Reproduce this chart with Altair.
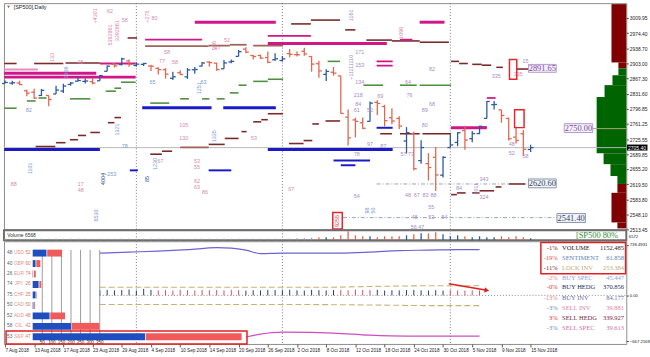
import altair as alt
import pandas as pd

# ---------------- values ----------------
date_labels = ["7 Aug 2018", "13 Aug 2018", "17 Aug 2018", "23 Aug 2018", "29 Aug 2018",
               "4 Sep 2018", "10 Sep 2018", "14 Sep 2018", "20 Sep 2018", "26 Sep 2018",
               "2 Oct 2018", "8 Oct 2018", "12 Oct 2018", "18 Oct 2018", "24 Oct 2018",
               "30 Oct 2018", "5 Nov 2018", "9 Nov 2018", "15 Nov 2018"]
date_tick_bars = [0, 4, 8, 12, 16, 20, 24, 28, 32, 36, 40, 44, 48, 52, 56, 60, 64, 68, 72]

opens = [2855.9, 2856.8, 2857.2, 2838.9, 2835.5, 2827.9, 2827.9, 2831.4, 2838.3, 2853.9,
         2861.5, 2861.0, 2860.3, 2862.4, 2884.7, 2901.5, 2900.6, 2908.9, 2898.4, 2901.0,
         2897.0, 2891.6, 2888.6, 2868.3, 2881.4, 2871.6, 2888.3, 2896.9, 2906.4, 2903.8,
         2890.7, 2906.6, 2919.7, 2936.8, 2921.8, 2921.8, 2917.0, 2911.7, 2910.0, 2926.3,
         2923.8, 2931.7, 2919.4, 2902.5, 2877.5, 2882.5, 2873.9, 2776.9, 2770.5, 2763.8,
         2767.1, 2811.7, 2802.0, 2775.7, 2773.9, 2721.0, 2737.9, 2674.9, 2667.9, 2682.7,
         2640.7, 2705.6, 2717.6, 2745.5, 2726.4, 2738.4, 2774.1, 2806.4, 2794.1, 2773.9,
         2730.0, 2737.9, 2701.0]
highs = [2863.4, 2862.4, 2862.5, 2842.2, 2843.4, 2843.1, 2828.0, 2850.5, 2855.6, 2859.8,
         2873.2, 2867.5, 2868.8, 2876.2, 2898.3, 2903.8, 2916.5, 2912.5, 2906.3, 2904.5,
         2900.2, 2894.2, 2892.1, 2883.8, 2886.9, 2892.5, 2894.7, 2906.8, 2908.3, 2904.7,
         2911.2, 2912.4, 2934.8, 2940.9, 2923.8, 2924.0, 2931.2, 2927.2, 2920.5, 2937.1,
         2931.4, 2939.9, 2919.8, 2909.6, 2889.5, 2894.8, 2874.0, 2795.1, 2775.8, 2776.0,
         2813.5, 2816.9, 2806.0, 2797.8, 2778.9, 2753.6, 2742.6, 2722.7, 2692.4, 2706.9,
         2685.4, 2736.7, 2741.7, 2756.6, 2744.3, 2756.8, 2815.2, 2814.8, 2794.1, 2776.0,
         2754.6, 2746.8, 2712.0]
lows = [2855.9, 2853.1, 2852.0, 2825.8, 2819.9, 2826.6, 2802.5, 2831.4, 2833.7, 2850.6,
        2861.3, 2856.1, 2854.0, 2862.4, 2884.7, 2893.5, 2898.4, 2895.2, 2895.8, 2897.0,
        2885.1, 2876.9, 2867.3, 2864.1, 2875.9, 2866.8, 2879.2, 2896.4, 2895.8, 2886.2,
        2890.4, 2903.8, 2919.7, 2927.1, 2912.6, 2913.7, 2903.3, 2909.3, 2907.5, 2917.9,
        2919.4, 2921.4, 2883.9, 2869.3, 2862.1, 2874.3, 2784.9, 2710.5, 2729.4, 2749.0,
        2766.9, 2781.8, 2755.2, 2760.3, 2749.2, 2691.4, 2651.9, 2667.8, 2628.2, 2603.5,
        2635.3, 2705.6, 2708.9, 2700.4, 2717.9, 2737.1, 2774.1, 2795.0, 2764.2, 2722.0,
        2715.0, 2685.8, 2695.0]
closes = [2858.5, 2857.7, 2853.6, 2833.3, 2821.9, 2840.0, 2818.4, 2840.7, 2850.1, 2857.1,
          2863.0, 2861.8, 2857.0, 2874.7, 2896.7, 2897.5, 2914.0, 2901.1, 2901.5, 2903.0,
          2896.7, 2888.6, 2878.1, 2871.7, 2877.1, 2887.9, 2888.9, 2904.2, 2905.0, 2888.8,
          2904.3, 2908.0, 2930.8, 2929.7, 2919.4, 2915.6, 2906.0, 2914.0, 2914.0, 2924.6,
          2923.4, 2925.5, 2901.6, 2885.6, 2884.4, 2880.3, 2785.7, 2728.4, 2767.1, 2750.8,
          2809.9, 2809.2, 2768.8, 2767.8, 2755.9, 2740.7, 2656.1, 2705.6, 2658.7, 2641.3,
          2682.6, 2711.7, 2740.4, 2723.1, 2738.3, 2755.5, 2813.9, 2806.8, 2781.0, 2726.2,
          2722.2, 2701.6, 2705.4]

price_ticks = [3009.95, 2974.40, 2938.70, 2903.00, 2867.30, 2831.60, 2796.85, 2761.25,
               2725.55, 2689.85, 2655.20, 2619.50, 2583.80, 2548.10, 2513.45]
last_price = 2705.40
separators = [18, 38, 61]

# level segments: (from bar, to bar, price)
maroon_levels = [(-0.1, 1.6, 2903), (4.0, 8.0, 2903), (8.3, 13.0, 2904), (16.8, 18.1, 2963),
                 (39.2, 41.9, 2996), (41.9, 45.9, 3005), (46.6, 48.0, 2982), (49.5, 53.0, 2958),
                 (53.0, 56.8, 2956), (56.8, 60.8, 2953), (61.1, 62.2, 2908), (62.2, 63.4, 2903),
                 (64.0, 65.3, 2901), (65.3, 66.6, 2899), (67.3, 68.2, 2894), (70.1, 71.7, 2890),
                 (4.2, 6.9, 2708), (7.0, 8.3, 2717), (8.9, 10.0, 2724), (10.0, 11.1, 2734),
                 (11.7, 13.0, 2741), (14.1, 15.0, 2764), (15.0, 15.9, 2776), (19.9, 21.5, 2690),
                 (21.5, 22.9, 2697), (27.9, 30.1, 2713), (30.1, 32.0, 2727), (32.4, 33.1, 2743),
                 (34.0, 35.1, 2766), (35.1, 36.0, 2771), (36.0, 38.1, 2785), (38.9, 40.9, 2715),
                 (40.9, 42.1, 2722), (42.1, 43.0, 2761), (43.9, 45.9, 2768), (51.4, 53.0, 2738),
                 (54.1, 56.8, 2738), (57.2, 61.1, 2738), (61.1, 61.9, 2595), (61.9, 63.1, 2599),
                 (64.0, 65.0, 2599), (65.0, 67.0, 2604), (67.2, 68.0, 2613), (69.0, 71.3, 2620)]
brown_levels = [(19.2, 27.9, 2944), (27.9, 30.8, 2945), (30.8, 33.1, 2947), (34.0, 38.1, 2945),
                (24.0, 27.9, 2706)]
green_levels = [(-0.1, 1.6, 2798), (3.0, 4.2, 2815), (4.6, 5.7, 2822), (8.9, 11.7, 2820),
                (13.8, 15.2, 2838), (15.0, 15.9, 2845), (15.9, 17.9, 2859), (19.9, 22.5, 2810),
                (24.0, 25.2, 2820), (27.0, 28.0, 2820), (29.0, 30.1, 2820), (30.8, 32.0, 2834),
                (32.0, 33.1, 2852), (34.0, 36.0, 2861), (36.0, 38.1, 2866), (44.2, 45.9, 2908),
                (49.1, 51.8, 2852), (54.1, 56.4, 2852), (56.8, 61.1, 2852), (64.9, 66.0, 2754)]
magenta_thick = [(-0.1, 17.9, 2871), (-0.1, 12.5, 2880), (26.0, 37.1, 3000), (36.0, 52.3, 2950),
                 (56.8, 60.2, 3000), (61.1, 66.0, 2752)]
magenta_thin = [(13.0, 17.9, 2903), (19.2, 27.0, 2959), (36.0, 41.9, 2968), (50.9, 53.1, 2908),
                (50.9, 53.1, 2898), (54.1, 55.8, 2959), (66.0, 67.2, 2822)]
pink_levels = [(-0.1, 4.5, 2889)]
blue_thick = [(-0.1, 13.0, 2701), (18.8, 28.3, 2799), (29.9, 37.1, 2799), (36.0, 53.1, 2701)]
blue_thin = [(17.1, 18.2, 2652), (27.9, 31.0, 2652), (45.0, 50.0, 2675), (46.0, 48.0, 2664),
             (50.9, 53.1, 2752)]
dashdot_levels = [(50.9, 69.0, 2620), (46.3, 75.6, 2541)]
olive_levels = [(80.5, 85.1, 2750)]

# boxed price labels: (bar from, bar to, price top, price bottom, text)
purple_boxes = [(71.7, 75.5, 2900.9, 2882.3, "2891.65"), (76.6, 80.5, 2761.7, 2740.8, "2750.00")]
slate_boxes = [(71.7, 75.5, 2631.8, 2611.0, "2620.60"), (75.6, 79.5, 2550.5, 2529.6, "2541.40")]
red_frames = [(69.1, 70.1, 2912.5, 2866.1), (69.8, 71.1, 2794.2, 2752.4), (44.9, 46.2, 2552.9, 2514.0)]

# small annotation numbers: (bar, price, text)
pink_labels = [(14.4, 3026, "62"), (16.4, 3005, "58"), (20.5, 3010, "80"), (10.3, 2906, "48"),
               (22.2, 2929, "58"), (21.5, 2908, "77"), (23.3, 2906, "58"), (30.4, 2959, "52"),
               (29.1, 2940, "47"), (1.2, 2620, "88"), (10.4, 2620, "17"), (10.4, 2606, "48"),
               (21.3, 2674, "67"), (24.5, 2759, "105"), (24.5, 2727, "130"), (26.3, 2674, "53"),
               (26.3, 2660, "55"), (26.3, 2628, "62"), (26.3, 2614, "63"), (27.4, 2600, "86"),
               (34.1, 2729, "53"), (39.2, 2608, "67"), (70.3, 2878, "335")]
lav_labels = [(48.6, 2929, "171"), (48.6, 2899, "153"), (48.6, 2859, "134"), (48.4, 2829, "218"),
              (48.4, 2808, "84"), (48.2, 2794, "61"), (50.0, 2794, "52"), (51.4, 2827, "69"),
              (55.4, 2829, "76"), (55.2, 2859, "64"), (58.5, 2889, "82"), (67.3, 2873, "335"),
              (57.5, 2794, "89"), (58.5, 2808, "68"), (57.5, 2759, "80"), (62.2, 2611, "84"),
              (65.6, 2632, "343"), (65.6, 2590, "324"), (58.4, 2565, "55"), (56.1, 2543, "48"),
              (58.4, 2543, "53"), (60.2, 2543, "54"), (56.5, 2520, "56.47"), (55.2, 2594, "48"),
              (56.4, 2594, "67"), (57.6, 2594, "83"), (58.7, 2594, "88"), (69.4, 2692, "52"),
              (71.3, 2685, "58"), (69.4, 2715, "48"), (48.2, 2592, "54"), (48.2, 2690, "78"),
              (50.0, 2715, "97"), (54.6, 2690, "57"), (55.6, 2690, "73"), (51.8, 2710, "87"),
              (71.3, 2908, "15")]
blue_labels = [(3.25, 2794, "82"), (20.2, 2859, "65"), (27.2, 2859, "63"), (14.4, 2643, "~253"),
               (16.4, 2708, "78")]
pink_vertical = [(12.3, 3015, "+4301"), (14.4, 2970, "5392861"), (15.4, 2980, "3392861"),
                 (19.5, 3013, "+275"), (6.4, 2917, "133"), (28.6, 2945, "986"), (54.3, 2975, "1096")]
lav_vertical = [(47.4, 2894, "+11111110"), (47.4, 3016, "1161"), (64.5, 2609, "1011")]
blue_vertical = [(8.3, 2882, "1306"), (26.6, 2845, "1251"), (3.5, 2657, "1101"), (12.5, 2546, "6530"),
                 (15.4, 2748, "1321"), (20.5, 2667, "1230"), (28.6, 2732, "1335"), (49.6, 2558, "98"),
                 (50.4, 2558, "50")]
navy_vertical = [(13.4, 2632, "4004"), (19.5, 2632, "85")]
red_vertical = [(45.5, 2533, "9255")]

# volume profile on the right edge
profile_top = [3042.4, 2905.5, 2891.6, 2875.4, 2852.2, 2824.3, 2692.1, 2666.6, 2638.8, 2620.1, 2599.3, 2529.7]
profile_bottom = [2905.5, 2891.6, 2875.4, 2852.2, 2824.3, 2692.1, 2666.6, 2638.8, 2620.1, 2599.3, 2529.7, 2515.7]
profile_volume = [150, 80, 80, 140, 220, 300, 230, 160, 90, 90, 150, 90]
profile_side = ["sell", "sell", "buy", "buy", "buy", "buy", "buy", "buy", "buy", "sell", "sell", "sell"]

# volume strip
vol_h = [1.5, 1.5, 1.5, 1.5, 1.5, 1.5, 1.5, 1.5, 1.5, 1.5,
         1.5, 1.5, 1.5, 1.5, 1.5, 1.5, 1.5, 1.5, 1.5, 1.5,
         1.5, 1.5, 1.5, 1.5, 1.5, 1.5, 1.5, 1.5, 1.5, 1.5,
         1.5, 1.5, 1.5, 1.5, 1.5, 1.5, 1.5, 1.5, 1.5, 1.5,
         2, 2, 2.5, 3, 3, 3, 5, 9, 5, 4,
         4, 3, 4, 4, 4, 5, 6, 7, 7, 8,
         6, 4, 5, 4, 3, 4, 3, 3, 4, 3,
         4, 3, 2]
vol_scale_label = "6572"

# lower indicator panel
purple_i = [13, 17, 21, 25, 29, 31, 33, 35, 38, 42, 46, 50, 54, 58, 62, 65]
purple_v = [616, 630, 645, 666, 695, 688, 659, 609, 616, 616, 616, 630, 652, 659, 666, 666]
band_up_i = [13, 30, 45, 52, 58, 65]
band_up_v = [119, 119, 119, 133, 141, 141]
band_lo_i = [13, 40, 50, 58, 65]
band_lo_v = [-132, -132, -140, -150, -150]
magenta_i = [33, 35, 38, 42, 45, 50, 55, 60, 65]
magenta_v = [-607, -564, -535, -540, -550, -580, -593, -593, -593]
tick_bars = list(range(13, 66))
tick_v = [75, 80, 72, 78, 85, 70, 95, 80,
          72, 78, 70, 82, 75, 70, 80, 74, 78, 72, 80, 76,
          70, 75, 72, 80, 78, 75, 82, 74, 70, 80, 76, 72, 78,
          80, 74, 85, 78, 80,
          82, 70, 75, 72, 78, 80, 74, 70, 76, 70,
          75, 72, 70, 74, 72]
tick_side = (["buy"] * 8 + ["sell"] * 12 + ["buy"] * 13 + ["sell"] * 5 + ["buy"] * 10 + ["sell"] * 5)
arrow_i = [60.8, 66.0]
arrow_v = [170, 75]
lower_ticks = [738.4931, 0, -667.2168]

legend_pct = ["-1%", "-19%", "-11%", "-2%", "-0%", "-13%", "-3%", "3%", "-3%"]
legend_name = ["VOLUME", "SENTIMENT", "LOCK INV", "BUY SPEC", "BUY HEDG", "BUY INV", "SELL INV",
               "SELL HEDG", "SELL SPEC"]
legend_value = ["1152.485", "61.858", "253.384", "45.447", "370.856", "84.177", "39.881",
                "339.927", "39.613"]
legend_row_v = [692, 548, 404, 260, 117, -36, -180, -324, -473]

cur_names = ["USD", "GBP", "EUR", "JPY", "CHF", "CAD", "AUD", "OIL", "S&P"]
cur_long = [48, 40, 26, 74, 75, 50, 52, 58, 53]
cur_short = [52, 60, 74, 26, 25, 50, 48, 42, 47]
cur_buy = [72, 15, 2, 31, 15, 4, 88, 200, 587]
cur_sell = [77, 21, 10, 10, 3, 4, 77, 144, 500]
cur_grid = [50, 100, 150, 200, 250, 300, 350]

# ---------------- styles / scales ----------------
W = 630
H_MAIN, H_VOL, H_LOW = 229, 10, 104
X_DOM = [-0.135, 85.1]
P_DOM = [2513.4, 3044.75]
V_DOM = [-708, 789]
VOL_DOM = [0, 10]
SANS = "Liberation Sans"
SERIF = "Liberation Serif"
UP, DOWN = "#2c5aa0", "#e2664f"
# inset placement (in the panel's own units)
PROFILE_UNITS_PER_BAR = 73.9      # profile volume units per bar width
CUR_I0, CUR_I_PER = 3.80, 0.02623  # currency gauge: bar position of 0, bars per unit
ROW_V0, ROW_V_STEP = 616, -152.5   # currency gauge: indicator value of row 0, step per row

price_axis = alt.Axis(orient="right", values=price_ticks, format=".2f", labelFontSize=5,
                      labelFont=SANS, labelColor="#222", tickSize=2, tickColor="#444",
                      labelPadding=1, domain=False, grid=False, title=None,
                      labelFlush=False, labelOverlap=False)
date_expr = "[" + ",".join("'%s'" % d for d in date_labels) + "][round(datum.value / 4)]"
date_axis = alt.Axis(orient="bottom", values=date_tick_bars, labelExpr=date_expr, labelAlign="left",
                     labelFontSize=4.7, labelFont=SANS, labelColor="#222", tickSize=3, tickColor="#555",
                     labelPadding=1, domain=False, grid=False, title=None, labelFlush=False,
                     labelOverlap=False)
low_axis = alt.Axis(orient="right", values=lower_ticks,
                    labelExpr="datum.value == 0 ? '0.00' : format(datum.value, '.4f')",
                    labelFontSize=4.3, labelFont=SANS, labelColor="#222", tickSize=2, tickColor="#444",
                    labelPadding=1, domain=False, grid=False, title=None, labelFlush=False,
                    labelOverlap=False)


def X(f, axis=None):
    return alt.X(f, type="quantitative", scale=alt.Scale(domain=X_DOM, nice=False, zero=False), axis=axis)


def XL(f):
    return X(f, date_axis)


def P(f):
    return alt.Y(f, type="quantitative", scale=alt.Scale(domain=P_DOM, nice=False, zero=False), axis=price_axis)


def V(f):
    return alt.Y(f, type="quantitative", scale=alt.Scale(domain=V_DOM, nice=False, zero=False), axis=low_axis)


def VOL(f):
    return alt.Y(f, type="quantitative", scale=alt.Scale(domain=VOL_DOM, nice=False, zero=False), axis=None)


def segs(items, color, width, dash=None):
    df = pd.DataFrame(items, columns=["i0", "i1", "p"])
    kw = dict(color=color, strokeWidth=width)
    if dash:
        kw["strokeDash"] = dash
    return alt.Chart(df).mark_rule(**kw).encode(x=X("i0"), x2=alt.X2("i1"), y=P("p"))


def labels(items, color, angle=0, size=5.5):
    df = pd.DataFrame(items, columns=["i", "p", "t"])
    kw = dict(color=color, fontSize=size, font=SANS)
    if angle:
        kw["angle"] = angle
    return alt.Chart(df).mark_text(**kw).encode(x=X("i"), y=P("p"), text="t:N")


# ---------------- main price panel ----------------
sep_df = pd.DataFrame({"i": separators})
sep_main = alt.Chart(sep_df).mark_rule(color="#7c7c7c", strokeDash=[1, 2]).encode(x=X("i"))
last_df = pd.DataFrame({"p": [last_price]})
last_line = alt.Chart(last_df).mark_rule(color="#b8b8b8").encode(y=P("p"))

ohlc = pd.DataFrame({"i": list(range(len(opens))), "o": opens, "h": highs, "l": lows, "c": closes})
ohlc_base = alt.Chart(ohlc).transform_calculate(il="datum.i - 0.4", ir="datum.i + 0.4")


def ohlc_layers(expr, color):
    b = ohlc_base.transform_filter(expr)
    return [
        b.mark_rule(color=color, strokeWidth=1.3).encode(x=X("i"), y=P("l"), y2=alt.Y2("h")),
        b.mark_rule(color=color, strokeWidth=1.3).encode(x=X("il"), x2=alt.X2("i"), y=P("o")),
        b.mark_rule(color=color, strokeWidth=1.3).encode(x=X("i"), x2=alt.X2("ir"), y=P("c")),
    ]


def boxes(items, text_color, fill, stroke):
    df = pd.DataFrame(items, columns=["i0", "i1", "p0", "p1", "t"])
    base = alt.Chart(df).transform_calculate(im="(datum.i0 + datum.i1) / 2", pm="(datum.p0 + datum.p1) / 2")
    r = base.mark_rect(fill=fill, stroke=stroke, strokeWidth=1).encode(
        x=X("i0"), x2=alt.X2("i1"), y=P("p0"), y2=alt.Y2("p1"))
    t = base.mark_text(color=text_color, font=SERIF, fontSize=8.5).encode(x=X("im"), y=P("pm"), text="t:N")
    return [r, t]


frames_df = pd.DataFrame(red_frames, columns=["i0", "i1", "p0", "p1"])
frames = alt.Chart(frames_df).mark_rect(fillOpacity=0, stroke="#e8262a", strokeWidth=1.5).encode(
    x=X("i0"), x2=alt.X2("i1"), y=P("p0"), y2=alt.Y2("p1"))

title_df = pd.DataFrame({"i": [1.2], "p": [3036], "t": ["[SP500],Daily"]})
title_txt = alt.Chart(title_df).mark_text(align="left", fontSize=5.5, font=SANS, color="#222").encode(
    x=X("i"), y=P("p"), text="t:N")
tri_df = pd.DataFrame({"i": [0.5], "p": [3036]})
tri = alt.Chart(tri_df).mark_point(shape="triangle-down", filled=True, size=8, color="#222").encode(
    x=X("i"), y=P("p"))

lp_df = pd.DataFrame({"i0": [85.2], "i1": [88.0], "p0": [2712.6], "p1": [2698.6], "t": ["2705.40"],
                      "it": [85.35], "pm": [last_price]})
lp_box = alt.Chart(lp_df).mark_rect(color="#000").encode(x=X("i0"), x2=alt.X2("i1"), y=P("p0"), y2=alt.Y2("p1"))
lp_txt = alt.Chart(lp_df).mark_text(color="white", fontSize=5, font=SANS, align="left").encode(
    x=X("it"), y=P("pm"), text="t:N")

prof_df = pd.DataFrame({"top": profile_top, "bot": profile_bottom, "vol": profile_volume, "side": profile_side})
prof_df["c"] = prof_df["side"].map({"sell": "#7f0000", "buy": "#006400"})
profile = alt.Chart(prof_df).transform_calculate(
    xr=str(X_DOM[1]), xl="%f - datum.vol / %f" % (X_DOM[1], PROFILE_UNITS_PER_BAR)
).mark_rect().encode(
    x=X("xl"), x2=alt.X2("xr"), y=P("top"), y2=alt.Y2("bot"), color=alt.Color("c:N", scale=None))

main = alt.layer(
    profile, sep_main, last_line,
    segs(dashdot_levels, "#9aa3b5", 1, [4, 2, 1, 2]),
    segs(olive_levels, "#a8a878", 1),
    segs(green_levels, "#4f8f3f", 1.6),
    segs(brown_levels, "#a0645a", 1.8),
    segs(maroon_levels, "#7a2a2a", 1.6),
    segs(pink_levels, "#e58cc0", 2),
    segs(magenta_thin, "#d0178a", 1.8),
    segs(magenta_thick, "#d0178a", 3),
    segs(blue_thin, "#1a1ac8", 2),
    segs(blue_thick, "#1a1ac8", 3),
    *ohlc_layers("datum.c >= datum.o", UP),
    *ohlc_layers("datum.c < datum.o", DOWN),
    labels(pink_labels, "#d98ab0"),
    labels(lav_labels, "#a88cc6"),
    labels(blue_labels, "#7d9bcf"),
    labels(pink_vertical, "#d98ab0", 270),
    labels(lav_vertical, "#a88cc6", 270),
    labels(blue_vertical, "#7d9bcf", 270),
    labels(navy_vertical, "#34509a", 270),
    labels(red_vertical, "#e04050", 270),
    *boxes(purple_boxes, "#7a4c9a", "#f4effa", "#b39ad0"),
    *boxes(slate_boxes, "#36456a", "#f1f3f7", "#8a94aa"),
    frames, title_txt, tri, lp_box, lp_txt,
).properties(width=W, height=H_MAIN)

# ---------------- volume strip ----------------
vol_df = pd.DataFrame({"i": list(range(len(vol_h))), "h": vol_h, "o": opens, "c": closes, "z": 0})
vol_df["col"] = ["#9a9a9a" if i < 43 else (UP if c >= o else DOWN)
                 for i, o, c in zip(vol_df["i"], vol_df["o"], vol_df["c"])]
vol_bars = alt.Chart(vol_df).mark_rule(strokeWidth=1.3).encode(
    x=X("i"), y=VOL("h"), y2=alt.Y2("z"), color=alt.Color("col:N", scale=None))
sep_vol = alt.Chart(sep_df).mark_rule(color="#7c7c7c", strokeDash=[1, 2]).encode(x=X("i"))
vtxt_df = pd.DataFrame({"i": [0.3], "h": [5.5], "t": ["Volume 6568"]})
vtxt = alt.Chart(vtxt_df).mark_text(align="left", fontSize=5, font=SANS, color="#333").encode(
    x=X("i"), y=VOL("h"), text="t:N")
sp_df = pd.DataFrame({"i": [78.2], "h": [4.8], "t": ["[SP500 80%"]})
sp_txt = alt.Chart(sp_df).mark_text(align="left", fontSize=8.5, font=SERIF, color="#2f8f2f").encode(
    x=X("i"), y=VOL("h"), text="t:N")
vs_df = pd.DataFrame({"i": [85.45], "h": [3.0], "t": [vol_scale_label]})
vs_txt = alt.Chart(vs_df).mark_text(align="left", fontSize=4.2, font=SANS, color="#222").encode(
    x=X("i"), y=VOL("h"), text="t:N")
vol_chart = alt.layer(sep_vol, vol_bars, vtxt, sp_txt, vs_txt).properties(
    width=W, height=H_VOL, view=alt.ViewBackground(stroke="#6e6e6e", strokeWidth=2))

# ---------------- lower indicator panel ----------------
sep_low = alt.Chart(sep_df).mark_rule(color="#7c7c7c", strokeDash=[1, 2]).encode(x=XL("i"))
base_df = pd.DataFrame({"i0": [13], "i1": [85.1], "v": [0]})
baseline = alt.Chart(base_df).mark_rule(color="#8a8a8a", strokeDash=[1, 2]).encode(
    x=XL("i0"), x2=alt.X2("i1"), y=V("v"))
purple = alt.Chart(pd.DataFrame({"i": purple_i, "v": purple_v})).mark_line(
    color="#6b63d4", strokeWidth=1.2, interpolate="monotone").encode(x=XL("i"), y=V("v"))
band_up = alt.Chart(pd.DataFrame({"i": band_up_i, "v": band_up_v})).mark_line(
    color="#c9b27a", strokeWidth=1.1, strokeDash=[6, 3]).encode(x=XL("i"), y=V("v"))
band_lo = alt.Chart(pd.DataFrame({"i": band_lo_i, "v": band_lo_v})).mark_line(
    color="#c9b27a", strokeWidth=1.1, strokeDash=[6, 3]).encode(x=XL("i"), y=V("v"))
mag_line = alt.Chart(pd.DataFrame({"i": magenta_i, "v": magenta_v})).mark_line(
    color="#cf4cc2", strokeWidth=1.2, interpolate="monotone").encode(x=XL("i"), y=V("v"))
tick_df = pd.DataFrame({"i": tick_bars, "v": tick_v, "side": tick_side, "z": 0})
tick_df["c"] = tick_df["side"].map({"buy": "#2b3a6b", "sell": "#d0506a"})
ticks = alt.Chart(tick_df).mark_rule(strokeWidth=1).encode(
    x=XL("i"), y=V("v"), y2=alt.Y2("z"), color=alt.Color("c:N", scale=None))
arrow_df = pd.DataFrame({"i0": [arrow_i[0]], "i1": [arrow_i[1]], "v0": [arrow_v[0]], "v1": [arrow_v[1]]})
arrow_line = alt.Chart(arrow_df).mark_rule(color="#e02020", strokeWidth=1.5).encode(
    x=XL("i0"), x2=alt.X2("i1"), y=V("v0"), y2=alt.Y2("v1"))
arrow_head = alt.Chart(arrow_df).mark_point(shape="triangle-right", filled=True, size=30, angle=10,
                                            color="#e02020", opacity=1).encode(x=XL("i1"), y=V("v1"))

leg_df = pd.DataFrame({"pct": legend_pct, "name": legend_name, "val": legend_value, "v": legend_row_v,
                       "xp": 75.7, "xn": 76.3, "xv": 84.8})
leg_df["cp"] = ["#8b1a1a", "#e05050", "#8b1a1a", "#e88a9a", "#e03030", "#e08a78", "#6a8cc0", "#e03030", "#6a8cc0"]
leg_df["cn"] = ["#1a1a1a", "#5a7fb8", "#c8a870", "#8fa0e0", "#1a2a6a", "#6a6ab8", "#e080a8", "#7a1a4a", "#d070b0"]
LEG_FS = 6.6
leg_pct = alt.Chart(leg_df).mark_text(align="right", font=SERIF, fontSize=LEG_FS).encode(
    x=XL("xp"), y=V("v"), text="pct:N", color=alt.Color("cp:N", scale=None))
leg_name = alt.Chart(leg_df).mark_text(align="left", font=SERIF, fontSize=LEG_FS).encode(
    x=XL("xn"), y=V("v"), text="name:N", color=alt.Color("cn:N", scale=None))
leg_val = alt.Chart(leg_df).mark_text(align="right", font=SERIF, fontSize=LEG_FS).encode(
    x=XL("xv"), y=V("v"), text="val:N", color=alt.Color("cn:N", scale=None))
leg_box_df = pd.DataFrame({"i0": [73.4], "i1": [85.0], "v0": [770], "v1": [314]})
leg_box = alt.Chart(leg_box_df).mark_rect(fillOpacity=0, stroke="#e02020", strokeWidth=1.5).encode(
    x=XL("i0"), x2=alt.X2("i1"), y=V("v0"), y2=alt.Y2("v1"))

# currency gauge inset (placed inside the indicator panel)
cur_df = pd.DataFrame({"r": list(range(len(cur_names))), "name": cur_names, "lo": cur_long,
                       "sh": cur_short, "buy": cur_buy, "sell": cur_sell})
cx = lambda e: "%f + %f * (%s)" % (CUR_I0, CUR_I_PER, e)
cy = lambda e: "%f + %f * (%s)" % (ROW_V0, ROW_V_STEP, e)
cur_base = alt.Chart(cur_df).transform_calculate(
    b0=cx("0"), b1=cx("datum.buy"), s0=cx("datum.buy + 4"), s1=cx("datum.buy + 4 + datum.sell"),
    y0=cy("datum.r - 0.33"), y1=cy("datum.r + 0.33"), yr=cy("datum.r"),
    xl=cx("-134"), xn=cx("-72"), xr=cx("-10"))
grid_df = pd.DataFrame({"g": cur_grid})
grid_base = alt.Chart(grid_df).transform_calculate(
    gx=cx("datum.g"), y0=cy("-0.3"), y1=cy("7.75"), yl=cy("8.55"))
cur_grid_rules = grid_base.mark_rule(color="#9a9a9a", strokeWidth=1).encode(
    x=XL("gx"), y=V("y0"), y2=alt.Y2("y1"))
cur_grid_txt = grid_base.mark_text(fontSize=4.5, font=SANS, color="#222").encode(
    x=XL("gx"), y=V("yl"), text="g:Q")
buy_bars = cur_base.mark_rect(color="#1f4fbf").encode(x=XL("b0"), x2=alt.X2("b1"), y=V("y0"), y2=alt.Y2("y1"))
sell_bars = cur_base.mark_rect(color="#f05a5a").encode(x=XL("s0"), x2=alt.X2("s1"), y=V("y0"), y2=alt.Y2("y1"))
CUR_FS = 4.8
cur_lo = cur_base.mark_text(align="left", fontSize=CUR_FS, font=SANS, color="#50607e").encode(
    x=XL("xl"), y=V("yr"), text="lo:Q")
cur_nm = cur_base.mark_text(align="center", fontSize=CUR_FS, font=SANS, color="#e8908c").encode(
    x=XL("xn"), y=V("yr"), text="name:N")
cur_sh = cur_base.mark_text(align="right", fontSize=CUR_FS, font=SANS, color="#e07a50").encode(
    x=XL("xr"), y=V("yr"), text="sh:Q")
cbox_df = pd.DataFrame({"x0": [-139], "x1": [1119], "r0": [7.45], "r1": [8.68]})
cur_box = alt.Chart(cbox_df).transform_calculate(
    bx0=cx("datum.x0"), bx1=cx("datum.x1"), by0=cy("datum.r0"), by1=cy("datum.r1")
).mark_rect(fillOpacity=0, stroke="#e02020", strokeWidth=1.5).encode(
    x=XL("bx0"), x2=alt.X2("bx1"), y=V("by0"), y2=alt.Y2("by1"))

lower = alt.layer(sep_low, baseline, band_up, band_lo, ticks, purple, mag_line,
                  arrow_line, arrow_head, leg_box, leg_pct, leg_name, leg_val,
                  cur_grid_rules, buy_bars, sell_bars, cur_grid_txt, cur_lo, cur_nm, cur_sh, cur_box
                  ).properties(width=W, height=H_LOW)

chart = alt.vconcat(main, vol_chart, lower, spacing=1, bounds="flush", padding=0,
                    background="white").configure_view(stroke="#8c8c8c", strokeWidth=1)

chart.save("out.html", embed_options={"renderer": "svg", "actions": False})
